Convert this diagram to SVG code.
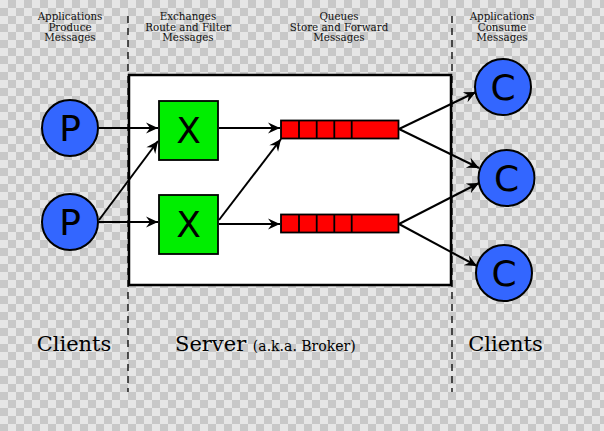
<svg xmlns="http://www.w3.org/2000/svg" width="604" height="431" viewBox="0 0 604 431">
<defs>
<pattern id="checker" x="0" y="0" width="16" height="16" patternUnits="userSpaceOnUse">
<rect width="16" height="16" fill="#c8c8c8"/>
<rect x="0" y="0" width="8" height="8" fill="#e6e6e6"/>
<rect x="8" y="8" width="8" height="8" fill="#e6e6e6"/>
</pattern>
<marker id="arr" markerUnits="userSpaceOnUse" markerWidth="16" markerHeight="12" viewBox="-13 -6 16 12" refX="0" refY="0" orient="auto">
<path d="M0,0 L-12,-5.5 L-8,0 L-12,5.5 Z" fill="#000"/>
</marker>
<style>
.hdr{font-family:"DejaVu Serif",serif;font-size:10.3px;fill:#111;text-anchor:middle}
.big{font-family:"DejaVu Serif",serif;font-size:21px;fill:#000}
.sm{font-family:"DejaVu Serif",serif;font-size:14px;fill:#000}
.circ{fill:#3366ff;stroke:#000;stroke-width:2}
.xbox{fill:#00ee00;stroke:#000;stroke-width:1.8}
.q{fill:#ff0000;stroke:#000;stroke-width:1.8}
.lbl{font-family:"DejaVu Sans",sans-serif;font-size:36px;fill:#000;text-anchor:middle}
.conn{stroke:#000;stroke-width:2;fill:none;marker-end:url(#arr)}
.dash{stroke:#000;stroke-width:1.3;stroke-dasharray:7 5;fill:none}
.div{stroke:#000;stroke-width:1.8}
</style>
</defs>
<rect width="604" height="431" fill="url(#checker)"/>
<g id="dividers">
<line class="dash" x1="128" y1="16" x2="128" y2="392"/>
<line class="dash" x1="452" y1="16" x2="452" y2="392"/>
</g>
<g id="server">
<rect x="129" y="75" width="322" height="210" fill="#fff" stroke="#000" stroke-width="2.5"/>
</g>
<g id="headers">
<text class="hdr" x="70" y="20">Applications</text>
<text class="hdr" x="70" y="30.5">Produce</text>
<text class="hdr" x="70" y="41">Messages</text>
<text class="hdr" x="188" y="20">Exchanges</text>
<text class="hdr" x="188" y="30.5">Route and Filter</text>
<text class="hdr" x="188" y="41">Messages</text>
<text class="hdr" x="339" y="20">Queues</text>
<text class="hdr" x="339" y="30.5">Store and Forward</text>
<text class="hdr" x="339" y="41">Messages</text>
<text class="hdr" x="502" y="20">Applications</text>
<text class="hdr" x="502" y="30.5">Consume</text>
<text class="hdr" x="502" y="41">Messages</text>
</g>
<g id="footers">
<text class="big" x="74" y="351" text-anchor="middle">Clients</text>
<text x="175" y="351"><tspan class="big">Server </tspan><tspan class="sm">(a.k.a. Broker)</tspan></text>
<text class="big" x="505.5" y="351" text-anchor="middle">Clients</text>
</g>
<g id="connectors">
<line class="conn" x1="99" y1="128" x2="158" y2="128"/>
<line class="conn" x1="99" y1="220" x2="158" y2="141"/>
<line class="conn" x1="99" y1="222" x2="158" y2="222"/>
<line class="conn" x1="219" y1="128" x2="280" y2="128"/>
<line class="conn" x1="219" y1="220" x2="281" y2="139"/>
<line class="conn" x1="219" y1="224" x2="280" y2="224"/>
<line class="conn" x1="399" y1="129" x2="476" y2="92"/>
<line class="conn" x1="399" y1="129" x2="479" y2="168"/>
<line class="conn" x1="399" y1="224" x2="479" y2="183"/>
<line class="conn" x1="399" y1="224" x2="477" y2="266"/>
</g>
<g id="p1"><circle class="circ" cx="70" cy="128" r="28"/><text class="lbl" x="70" y="141">P</text></g>
<g id="p2"><circle class="circ" cx="70" cy="222" r="28"/><text class="lbl" x="70" y="235">P</text></g>
<g id="x1"><rect class="xbox" x="159" y="101" width="59" height="59"/><text class="lbl" x="188.5" y="143">X</text></g>
<g id="x2"><rect class="xbox" x="159" y="195" width="59" height="59"/><text class="lbl" x="188.5" y="237">X</text></g>
<g id="q1">
<rect class="q" x="281" y="120.5" width="117.5" height="18"/>
<line class="div" x1="299" y1="120.5" x2="299" y2="138.5"/>
<line class="div" x1="316.7" y1="120.5" x2="316.7" y2="138.5"/>
<line class="div" x1="334.3" y1="120.5" x2="334.3" y2="138.5"/>
<line class="div" x1="351.7" y1="120.5" x2="351.7" y2="138.5"/>
</g>
<g id="q2">
<rect class="q" x="281" y="214.5" width="117.5" height="18"/>
<line class="div" x1="299" y1="214.5" x2="299" y2="232.5"/>
<line class="div" x1="316.7" y1="214.5" x2="316.7" y2="232.5"/>
<line class="div" x1="334.3" y1="214.5" x2="334.3" y2="232.5"/>
<line class="div" x1="351.7" y1="214.5" x2="351.7" y2="232.5"/>
</g>
<g id="c1"><circle class="circ" cx="503" cy="87" r="28"/><text class="lbl" x="503" y="100">C</text></g>
<g id="c2"><circle class="circ" cx="506.5" cy="178" r="28"/><text class="lbl" x="506.5" y="191">C</text></g>
<g id="c3"><circle class="circ" cx="504" cy="273" r="28"/><text class="lbl" x="504" y="286">C</text></g>
</svg>
